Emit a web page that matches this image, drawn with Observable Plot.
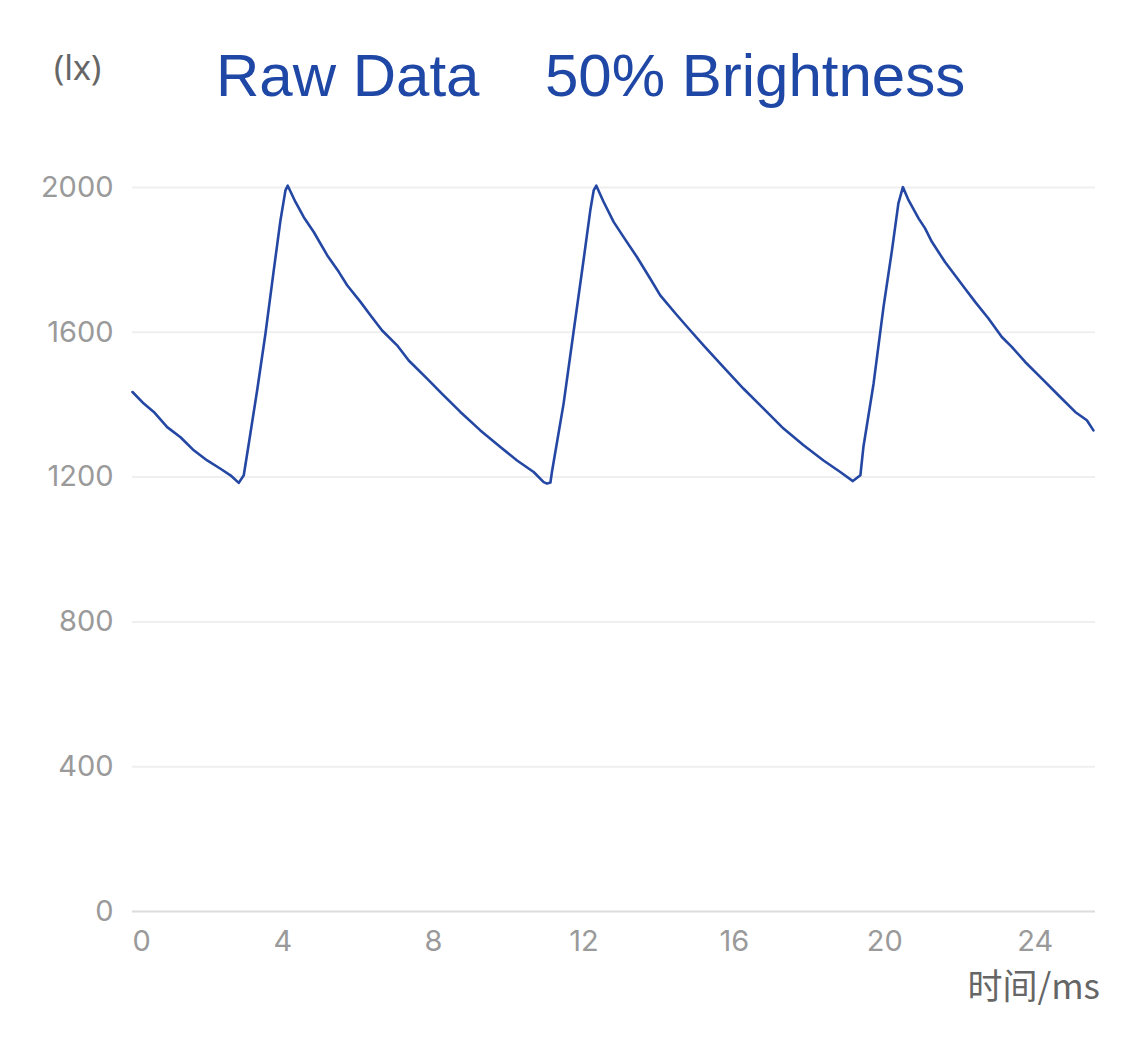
<!DOCTYPE html>
<html>
<head>
<meta charset="utf-8">
<script src="https://cdn.jsdelivr.net/npm/d3@7"></script>
<script src="https://cdn.jsdelivr.net/npm/@observablehq/plot@0.6"></script>
<style>
  html, body { margin: 0; padding: 0; background: #fff; }
  #wrap { position: relative; width: 1125px; height: 1040px; overflow: hidden; }
  #wrap svg { position: absolute; left: 0; top: 0; }
  .lbl { position: absolute; white-space: nowrap; line-height: 1; }
</style>
</head>
<body>
<div id="wrap">
  <div class="lbl" id="unit" style="left:54px; top:44px; font: 34px 'Noto Sans', sans-serif; color:#666;">(lx)</div>
  <div class="lbl" id="t1" style="left:216px; top:41px; font: 60px 'Liberation Sans', Arial, sans-serif; color:#1f47a6;">Raw Data</div>
  <div class="lbl" id="t2" style="left:545px; top:41px; font: 60px 'Liberation Sans', Arial, sans-serif; color:#1f47a6;">50% Brightness</div>
  <div class="lbl" id="xl" style="right:25px; top:958px; font: 35px 'Noto Sans CJK SC', sans-serif; color:#666;">时间/ms</div>
</div>
<script>
// time (ms)
const timeMs = [0, 0.30, 0.566, 0.922, 1.276, 1.629, 1.985, 2.339, 2.604, 2.825,
  2.958, 3.091, 3.314, 3.534, 3.755, 3.933, 4.066, 4.127,
  4.332, 4.553, 4.818, 5.174, 5.483, 5.706, 6.060, 6.325, 6.636, 7.034, 7.343, 7.831, 8.230, 8.716, 9.248, 9.779, 10.223, 10.664, 10.930,
  11.02, 11.11,
  11.15, 11.46, 11.73, 11.99, 12.17, 12.26, 12.33,
  12.525, 12.79, 13.056, 13.41, 13.765, 14.03, 14.475, 14.83, 15.18, 15.71, 16.245, 16.776, 17.307, 17.84, 18.37, 18.815,
  19.15,
  19.35, 19.43, 19.70, 19.965, 20.19, 20.36, 20.48,
  20.63, 20.9, 21.07, 21.25, 21.6, 21.87, 22.13, 22.4, 22.755, 23.11, 23.38, 23.73, 24.175, 24.615, 25.06, 25.37, 25.545];
// illuminance (lx)
const lux = [1435, 1403, 1380, 1338, 1310, 1274, 1246, 1223, 1205, 1184,
  1205, 1292, 1440, 1596, 1771, 1909, 1992, 2005,
  1960, 1918, 1877, 1813, 1767, 1730, 1684, 1647, 1605, 1564, 1522, 1472, 1430, 1380, 1329, 1283, 1246, 1214, 1186,
  1182, 1185,
  1214, 1403, 1605, 1799, 1937, 1992, 2005,
  1960, 1905, 1863, 1808, 1748, 1702, 1647, 1605, 1564, 1504, 1444, 1389, 1334, 1288, 1246, 1214,
  1189,
  1205, 1283, 1458, 1670, 1827, 1956, 2001,
  1965, 1914, 1887, 1850, 1794, 1757, 1721, 1684, 1638, 1587, 1559, 1518, 1472, 1426, 1380, 1357, 1329];

const xTicks = [0, 4, 8, 12, 16, 20, 24];
const yTicks = [0, 400, 800, 1200, 1600, 2000];

const data = timeMs.map((t, i) => ({t, v: lux[i]}));

const tickFont = "Inter, 'Noto Sans', sans-serif";

const chart = Plot.plot({
  width: 1125,
  height: 1040,
  marginLeft: 132,
  marginRight: 30,
  marginTop: 150,
  marginBottom: 129,
  style: {background: "transparent", overflow: "visible"},
  x: {domain: [0, 25.6], axis: null},
  y: {domain: [0, 2102.2], axis: null},
  marks: [
    Plot.ruleY(yTicks.filter(d => d !== 0), {y: d => d, stroke: "#efefef", strokeWidth: 2}),
    Plot.ruleY([0], {stroke: "#dcdcdc", strokeWidth: 2}),
    Plot.text(yTicks, {y: d => d, frameAnchor: "left", dx: -19, textAnchor: "end",
      text: d => String(d), fill: "#9a9a9a", fontSize: 29, fontFamily: tickFont}),
    Plot.text(xTicks.filter(d => d === 0), {x: d => d, frameAnchor: "bottom", dy: 39, textAnchor: "start",
      text: d => String(d), fill: "#9a9a9a", fontSize: 29, fontFamily: tickFont}),
    Plot.text(xTicks.filter(d => d !== 0), {x: d => d, frameAnchor: "bottom", dy: 39, textAnchor: "middle",
      text: d => String(d), fill: "#9a9a9a", fontSize: 29, fontFamily: tickFont}),
    Plot.line(data, {x: "t", y: "v", stroke: "#2447a3", strokeWidth: 2.6, curve: "linear"})
  ]
});
document.getElementById("wrap").prepend(chart);
</script>
</body>
</html>
